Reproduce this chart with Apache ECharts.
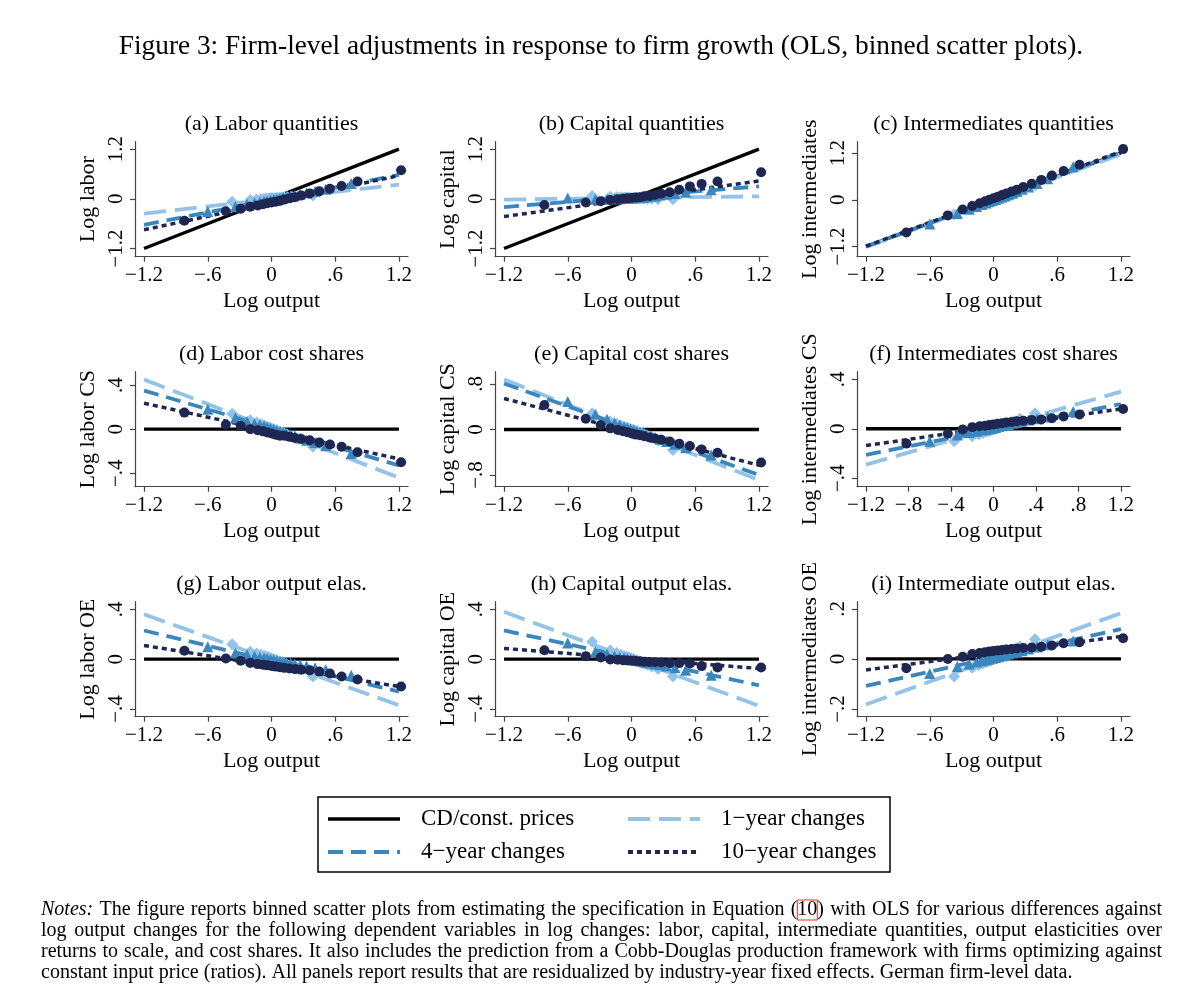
<!DOCTYPE html>
<html>
<head>
<meta charset="utf-8">
<script src="https://cdn.jsdelivr.net/npm/echarts@6.0.0/dist/echarts.min.js"></script>
<style>
html, body { margin: 0; padding: 0; background: #fff; }
#chart { width: 1200px; height: 997px; }
</style>
</head>
<body>
<div id="chart"></div>
<script>
// bin means of log output changes (same x for every panel)
var binX1 = [-0.37, -0.20, -0.14, -0.10, -0.07, -0.05, -0.03, -0.015, 0.00, 0.015, 0.03, 0.045, 0.06, 0.08, 0.10, 0.12, 0.15, 0.19, 0.25, 0.39];
var binX4 = [-0.60, -0.34, -0.23, -0.16, -0.11, -0.07, -0.04, -0.01, 0.02, 0.05, 0.08, 0.11, 0.14, 0.18, 0.22, 0.27, 0.33, 0.41, 0.51, 0.75];
var binX10 = [-0.82, -0.43, -0.29, -0.20, -0.13, -0.08, -0.04, 0.00, 0.04, 0.08, 0.12, 0.17, 0.22, 0.28, 0.36, 0.45, 0.55, 0.66, 0.81, 1.22];
var fitX = [-1.2, 1.2];
var cdQty = [-1.2, 1.2];
var cdFlat = [0, 0];

// tick labels
var ticksX = [-1.2, -0.6, 0, 0.6, 1.2];
var ticksXf = [-1.2, -0.8, -0.4, 0, 0.4, 0.8, 1.2];
var ticksQ = [-1.2, 0, 1.2];
var ticks4 = [-0.4, 0, 0.4];
var ticks8 = [-0.8, 0, 0.8];
var ticks2 = [-0.2, 0, 0.2];

// (a) labor quantities
var labQ1 = [-0.07, -0.03, -0.02, -0.01, 0.00, 0.00, 0.005, 0.01, 0.01, 0.015, 0.015, 0.02, 0.02, 0.025, 0.03, 0.035, 0.04, 0.05, 0.06, 0.08];
var labQ4 = [-0.31, -0.19, -0.13, -0.10, -0.08, -0.06, -0.045, -0.03, -0.015, 0.00, 0.015, 0.03, 0.045, 0.065, 0.085, 0.11, 0.14, 0.18, 0.23, 0.37];
var labQ10 = [-0.53, -0.30, -0.24, -0.19, -0.16, -0.13, -0.11, -0.09, -0.07, -0.05, -0.02, 0.01, 0.04, 0.08, 0.13, 0.18, 0.24, 0.31, 0.42, 0.69];
var labQFit1 = [-0.36, 0.34], labQFit4 = [-0.63, 0.58], labQFit10 = [-0.75, 0.56];
// (b) capital quantities
var capQ1 = [0.07, 0.05, 0.04, 0.04, 0.03, 0.03, 0.03, 0.02, 0.02, 0.02, 0.02, 0.01, 0.01, 0.01, 0.01, 0.00, 0.00, 0.00, -0.01, -0.01];
var capQ4 = [0.02, -0.01, -0.01, 0.00, 0.00, 0.01, 0.01, 0.02, 0.02, 0.03, 0.04, 0.04, 0.05, 0.06, 0.07, 0.09, 0.11, 0.13, 0.16, 0.22];
var capQ10 = [-0.15, -0.09, -0.06, -0.03, -0.01, 0.00, 0.01, 0.02, 0.03, 0.04, 0.06, 0.07, 0.09, 0.12, 0.16, 0.22, 0.30, 0.36, 0.42, 0.64];
var capQFit1 = [-0.02, 0.06], capQFit4 = [-0.20, 0.30], capQFit10 = [-0.43, 0.43];
// (c) intermediates quantities
var intQ1 = [-0.38, -0.22, -0.16, -0.12, -0.09, -0.07, -0.05, -0.035, -0.02, -0.005, 0.01, 0.025, 0.04, 0.06, 0.08, 0.10, 0.13, 0.17, 0.23, 0.37];
var intQ4 = [-0.62, -0.35, -0.24, -0.17, -0.12, -0.08, -0.05, -0.02, 0.01, 0.04, 0.07, 0.10, 0.13, 0.17, 0.21, 0.27, 0.33, 0.42, 0.54, 0.85];
var intQ10 = [-0.84, -0.40, -0.25, -0.16, -0.09, -0.04, 0.00, 0.04, 0.08, 0.12, 0.16, 0.21, 0.26, 0.33, 0.41, 0.51, 0.62, 0.74, 0.90, 1.30];
var intQFit1 = [-1.21, 1.17], intQFit4 = [-1.20, 1.22], intQFit10 = [-1.19, 1.24];
// (d) labor cost shares
var labS1 = [0.14, 0.08, 0.06, 0.045, 0.035, 0.025, 0.02, 0.01, 0.005, 0.00, -0.005, -0.01, -0.02, -0.025, -0.03, -0.04, -0.05, -0.07, -0.09, -0.16];
var labS4 = [0.18, 0.10, 0.07, 0.05, 0.04, 0.03, 0.02, 0.01, 0.00, -0.01, -0.02, -0.03, -0.04, -0.05, -0.06, -0.08, -0.10, -0.12, -0.15, -0.22];
var labS10 = [0.15, 0.04, 0.03, 0.00, -0.01, -0.02, -0.03, -0.04, -0.05, -0.06, -0.06, -0.07, -0.08, -0.09, -0.10, -0.12, -0.14, -0.16, -0.21, -0.30];
var labSFit1 = [0.45, -0.44], labSFit4 = [0.35, -0.33], labSFit10 = [0.235, -0.27];
// (e) capital cost shares
var capS1 = [0.28, 0.14, 0.10, 0.07, 0.05, 0.035, 0.02, 0.01, 0.00, -0.01, -0.02, -0.03, -0.04, -0.06, -0.07, -0.09, -0.11, -0.14, -0.19, -0.36];
var capS4 = [0.49, 0.27, 0.18, 0.12, 0.08, 0.05, 0.03, 0.01, -0.01, -0.03, -0.05, -0.07, -0.09, -0.11, -0.14, -0.17, -0.21, -0.26, -0.32, -0.45];
var capS10 = [0.43, 0.19, 0.08, 0.02, -0.01, -0.03, -0.05, -0.07, -0.09, -0.10, -0.12, -0.14, -0.16, -0.18, -0.21, -0.25, -0.29, -0.35, -0.41, -0.58];
var capSFit1 = [0.88, -0.89], capSFit4 = [0.81, -0.80], capSFit10 = [0.545, -0.63];
// (f) intermediates cost shares
var intS1 = [-0.10, -0.06, -0.045, -0.035, -0.025, -0.02, -0.015, -0.01, -0.005, 0.00, 0.005, 0.01, 0.015, 0.02, 0.03, 0.035, 0.045, 0.06, 0.08, 0.125];
var intS4 = [-0.10, -0.05, -0.03, -0.02, -0.01, -0.005, 0.00, 0.005, 0.01, 0.02, 0.025, 0.03, 0.035, 0.045, 0.05, 0.06, 0.07, 0.08, 0.095, 0.14];
var intS10 = [-0.12, -0.04, -0.005, 0.013, 0.02, 0.025, 0.03, 0.035, 0.04, 0.045, 0.05, 0.055, 0.06, 0.065, 0.07, 0.075, 0.085, 0.10, 0.115, 0.16];
var intSFit1 = [-0.29, 0.30], intSFit4 = [-0.21, 0.20], intSFit10 = [-0.135, 0.16];
// (g) labor output elasticities
var labE1 = [0.12, 0.06, 0.045, 0.035, 0.025, 0.02, 0.015, 0.01, 0.005, 0.00, -0.005, -0.01, -0.015, -0.02, -0.03, -0.035, -0.045, -0.06, -0.08, -0.14];
var labE4 = [0.10, 0.05, 0.035, 0.025, 0.015, 0.01, 0.005, 0.00, -0.005, -0.01, -0.015, -0.02, -0.025, -0.03, -0.04, -0.045, -0.055, -0.07, -0.085, -0.13];
var labE10 = [0.067, 0.005, -0.013, -0.03, -0.04, -0.045, -0.05, -0.055, -0.06, -0.065, -0.07, -0.075, -0.08, -0.085, -0.09, -0.10, -0.115, -0.14, -0.163, -0.22];
var labEFit1 = [0.36, -0.37], labEFit4 = [0.23, -0.26], labEFit10 = [0.11, -0.22];
// (h) capital output elasticities
var capE1 = [0.14, 0.07, 0.05, 0.035, 0.025, 0.02, 0.015, 0.01, 0.005, 0.00, -0.005, -0.01, -0.015, -0.02, -0.03, -0.035, -0.045, -0.06, -0.08, -0.14];
var capE4 = [0.13, 0.06, 0.04, 0.025, 0.015, 0.01, 0.005, 0.00, -0.005, -0.01, -0.015, -0.02, -0.025, -0.03, -0.04, -0.045, -0.055, -0.07, -0.09, -0.13];
var capE10 = [0.072, 0.024, 0.013, -0.003, -0.005, -0.008, -0.01, -0.012, -0.015, -0.017, -0.02, -0.022, -0.025, -0.027, -0.03, -0.032, -0.035, -0.056, -0.067, -0.067];
var capEFit1 = [0.38, -0.375], capEFit4 = [0.23, -0.21], capEFit10 = [0.086, -0.075];
// (i) intermediate output elasticities
var intE1 = [-0.07, -0.035, -0.025, -0.018, -0.013, -0.009, -0.006, -0.003, 0.00, 0.003, 0.006, 0.009, 0.012, 0.016, 0.02, 0.025, 0.03, 0.038, 0.05, 0.079];
var intE4 = [-0.058, -0.03, -0.02, -0.012, -0.007, -0.003, 0.00, 0.003, 0.006, 0.01, 0.013, 0.016, 0.02, 0.024, 0.028, 0.033, 0.04, 0.048, 0.057, 0.072];
var intE10 = [-0.037, 0.0, 0.009, 0.02, 0.024, 0.027, 0.03, 0.032, 0.034, 0.036, 0.038, 0.04, 0.042, 0.044, 0.046, 0.049, 0.054, 0.063, 0.067, 0.083];
var intEFit1 = [-0.182, 0.183], intEFit4 = [-0.108, 0.119], intEFit10 = [-0.044, 0.09];

var panels = [
	{title: '(a) Labor quantities', yName: 'Log labor', yMin: -1.40, yMax: 1.38, yTicks: ticksQ, xTicks: ticksX, cd: cdQty, fits: [labQFit1, labQFit4, labQFit10], pts: [labQ1, labQ4, labQ10]},
	{title: '(b) Capital quantities', yName: 'Log capital', yMin: -1.40, yMax: 1.38, yTicks: ticksQ, xTicks: ticksX, cd: cdQty, fits: [capQFit1, capQFit4, capQFit10], pts: [capQ1, capQ4, capQ10]},
	{title: '(c) Intermediates quantities', yName: 'Log intermediates', yMin: -1.46, yMax: 1.49, yTicks: ticksQ, xTicks: ticksX, cd: cdQty, fits: [intQFit1, intQFit4, intQFit10], pts: [intQ1, intQ4, intQ10]},
	{title: '(d) Labor cost shares', yName: 'Log labor CS', yMin: -0.522, yMax: 0.521, yTicks: ticks4, xTicks: ticksX, cd: cdFlat, fits: [labSFit1, labSFit4, labSFit10], pts: [labS1, labS4, labS10]},
	{title: '(e) Capital cost shares', yName: 'Log capital CS', yMin: -1.006, yMax: 1.016, yTicks: ticks8, xTicks: ticksX, cd: cdFlat, fits: [capSFit1, capSFit4, capSFit10], pts: [capS1, capS4, capS10]},
	{title: '(f) Intermediates cost shares', yName: 'Log intermediates CS', yMin: -0.468, yMax: 0.461, yTicks: ticks4, xTicks: ticksXf, cd: cdFlat, fits: [intSFit1, intSFit4, intSFit10], pts: [intS1, intS4, intS10]},
	{title: '(g) Labor output elas.', yName: 'Log labor OE', yMin: -0.462, yMax: 0.461, yTicks: ticks4, xTicks: ticksX, cd: cdFlat, fits: [labEFit1, labEFit4, labEFit10], pts: [labE1, labE4, labE10]},
	{title: '(h) Capital output elas.', yName: 'Log capital OE', yMin: -0.462, yMax: 0.461, yTicks: ticks4, xTicks: ticksX, cd: cdFlat, fits: [capEFit1, capEFit4, capEFit10], pts: [capE1, capE4, capE10]},
	{title: '(i) Intermediate output elas.', yName: 'Log intermediates OE', yMin: -0.231, yMax: 0.229, yTicks: ticks2, xTicks: ticksX, cd: cdFlat, fits: [intEFit1, intEFit4, intEFit10], pts: [intE1, intE4, intE10]}
];

var FONT = 'Liberation Serif';
var colLeft = [135, 495, 857];
var rowTop = [141.7, 371.7, 601.7];
var plotW = 273, plotH = 115;
var axisGray = '#444';
var cLight = '#93c3e8', cMid = '#3a87bf', cDark = '#1d2751';
var fitStyles = [
	{color: cLight, width: 3.8, type: [22, 9]},
	{color: cMid, width: 3.8, type: [15, 8]},
	{color: cDark, width: 3.5, type: [5, 4]}
];
var markers = [
	{symbol: 'diamond', size: 12, color: cLight},
	{symbol: 'triangle', size: 11, color: cMid},
	{symbol: 'circle', size: 10, color: cDark}
];
var binXs = [binX1, binX4, binX10];

var fmt = function(v) {
	var r = Math.round(v * 10) / 10;
	if (r === 0) return '0';
	var s = Math.abs(r).toFixed(1).replace(/^0/, '');
	return (r < 0 ? '\u2212' : '') + s;
};

var grids = [], xAxes = [], yAxes = [], series = [], graphics = [];

panels.forEach(function(p, k) {
	var left = colLeft[k % 3], top = rowTop[Math.floor(k / 3)];
	grids.push({left: left, top: top, width: plotW, height: plotH, containLabel: false, outerBoundsMode: 'none'});
	xAxes.push({
		type: 'value', gridIndex: k, min: -1.285, max: 1.285,
		name: 'Log output', nameLocation: 'middle', nameGap: 34,
		nameTextStyle: {fontFamily: FONT, fontSize: 22, color: '#000'},
		axisLine: {onZero: false, lineStyle: {color: axisGray, width: 1.2}},
		axisTick: {customValues: p.xTicks, length: 5, lineStyle: {color: axisGray, width: 1.2}},
		axisLabel: {customValues: p.xTicks, formatter: fmt, margin: 8, fontFamily: FONT, fontSize: 21, color: '#000'},
		splitLine: {show: false}
	});
	yAxes.push({
		type: 'value', gridIndex: k, min: p.yMin, max: p.yMax,
		name: p.yName, nameLocation: 'middle', nameGap: 36,
		nameTextStyle: {fontFamily: FONT, fontSize: 22, color: '#000'},
		axisLine: {onZero: false, lineStyle: {color: axisGray, width: 1.2}},
		axisTick: {customValues: p.yTicks, length: 5, lineStyle: {color: axisGray, width: 1.2}},
		axisLabel: {customValues: p.yTicks, formatter: fmt, rotate: 90, margin: 8, fontFamily: FONT, fontSize: 21, color: '#000'},
		splitLine: {show: false}
	});
	series.push({
		type: 'line', xAxisIndex: k, yAxisIndex: k, symbol: 'none', silent: true, z: 2,
		data: [[fitX[0], p.cd[0]], [fitX[1], p.cd[1]]],
		lineStyle: {color: '#000', width: 3.3, type: 'solid'}
	});
	p.fits.forEach(function(f, j) {
		series.push({
			type: 'line', xAxisIndex: k, yAxisIndex: k, symbol: 'none', silent: true, z: 3 + j,
			data: [[fitX[0], f[0]], [fitX[1], f[1]]],
			lineStyle: fitStyles[j]
		});
	});
	p.pts.forEach(function(ys, j) {
		series.push({
			type: 'scatter', xAxisIndex: k, yAxisIndex: k, silent: true, z: 6 + j,
			symbol: markers[j].symbol, symbolSize: markers[j].size,
			itemStyle: {color: markers[j].color, opacity: 1},
			data: binXs[j].map(function(x, i) { return [x, ys[i]]; })
		});
	});
	graphics.push({
		type: 'text', x: left + plotW / 2, y: top - 17,
		style: {text: p.title, font: '22px "' + FONT + '"', fill: '#000', textAlign: 'center', textVerticalAlign: 'middle'}
	});
});

// main title
graphics.push({
	type: 'text', x: 601, y: 47,
	style: {text: 'Figure 3: Firm-level adjustments in response to firm growth (OLS, binned scatter plots).', font: '27.3px "' + FONT + '"', fill: '#000', textAlign: 'center', textVerticalAlign: 'middle'}
});

// legend box
var legendItems = [
	{label: 'CD/const. prices', x: 328, y: 819, color: '#000', width: 3.5, dash: null},
	{label: '1\u2212year changes', x: 628, y: 819, color: cLight, width: 4, dash: [22, 9]},
	{label: '4\u2212year changes', x: 328, y: 852, color: cMid, width: 4, dash: [15, 8]},
	{label: '10\u2212year changes', x: 628, y: 852, color: cDark, width: 4, dash: [5, 4]}
];
graphics.push({
	type: 'rect', shape: {x: 318, y: 797, width: 572, height: 75},
	style: {fill: '#fff', stroke: '#000', lineWidth: 1.5}
});
legendItems.forEach(function(it) {
	graphics.push({
		type: 'line', shape: {x1: it.x, y1: it.y, x2: it.x + 72, y2: it.y},
		style: {stroke: it.color, lineWidth: it.width, lineDash: it.dash}
	});
	graphics.push({
		type: 'text', x: it.x + 93, y: it.y,
		style: {text: it.label, font: '23px "' + FONT + '"', fill: '#000', textAlign: 'left', textVerticalAlign: 'middle'}
	});
});

// notes, justified like the printed caption (last line left as is)
var notes = [
	'Notes: The figure reports binned scatter plots from estimating the specification in Equation (10) with OLS for various differences against',
	'log output changes for the following dependent variables in log changes: labor, capital, intermediate quantities, output elasticities over',
	'returns to scale, and cost shares. It also includes the prediction from a Cobb-Douglas production framework with firms optimizing against',
	'constant input price (ratios). All panels report results that are residualized by industry-year fixed effects. German firm-level data.'
];
var noteSize = 20, noteLeft = 41, noteRight = 1162, noteTop = 910, noteStep = 21;
var measure = document.createElement('canvas').getContext('2d');
var wordFont = function(w) {
	return (w === 'Notes:' ? 'italic ' : '') + noteSize + 'px "' + FONT + '"';
};
notes.forEach(function(line, i) {
	var words = line.split(' ');
	var widths = words.map(function(w) {
		measure.font = wordFont(w);
		return measure.measureText(w).width;
	});
	measure.font = wordFont('');
	var space = measure.measureText(' ').width;
	var total = widths.reduce(function(a, b) { return a + b; }, 0);
	if (i < notes.length - 1) {
		space = (noteRight - noteLeft - total) / (words.length - 1);
	}
	var x = noteLeft, y = noteTop + i * noteStep;
	words.forEach(function(w, j) {
		var st = {font: wordFont(w), fill: '#000', textAlign: 'left', textVerticalAlign: 'middle', text: w};
		if (w === '(10)') {
			st.text = '({lnk|10})';
			st.rich = {lnk: {fontFamily: FONT, fontSize: noteSize, color: '#000', borderColor: '#e0301e', borderWidth: 1, padding: [0, 0, 0, 0]}};
		}
		graphics.push({type: 'text', x: x, y: y, style: st});
		x += widths[j] + space;
	});
});

var chart = echarts.init(document.getElementById('chart'), null, {renderer: 'canvas'});
chart.setOption({
	backgroundColor: '#fff',
	animation: false,
	grid: grids,
	xAxis: xAxes,
	yAxis: yAxes,
	series: series,
	graphic: graphics
});
</script>
</body>
</html>
